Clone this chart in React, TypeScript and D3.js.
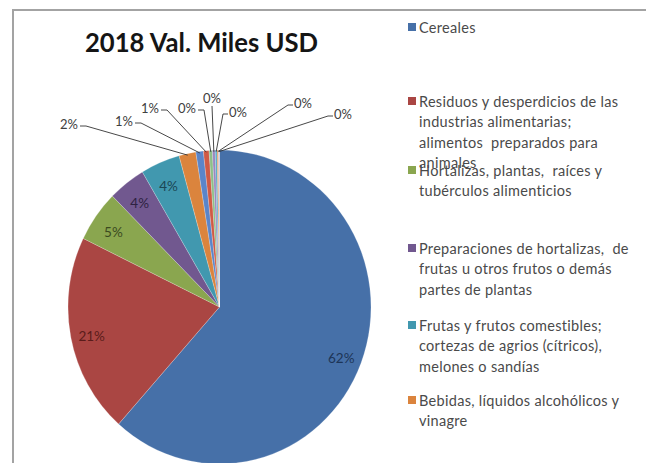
import * as d3 from "d3";

// chart data
const categories = [
  "Cereales",
  "Residuos y desperdicios de las industrias alimentarias; alimentos preparados para animales",
  "Hortalizas, plantas, raíces y tubérculos alimenticios",
  "Preparaciones de hortalizas, de frutas u otros frutos o demás partes de plantas",
  "Frutas y frutos comestibles; cortezas de agrios (cítricos), melones o sandías",
  "Bebidas, líquidos alcohólicos y vinagre",
  "Café, té, yerba mate y especias",
  "Productos de la molinería",
  "Azúcares y artículos de confitería",
  "Grasas y aceites animales o vegetales",
  "Cacao y sus preparaciones",
  "Semillas y frutos oleaginosos",
  "Leche y productos lácteos",
];
const values = [61.6, 20.6, 5.3, 4.0, 4.2, 1.8, 0.8, 0.6, 0.35, 0.3, 0.2, 0.15, 0.1];
const colors = [
  "#4670a8", "#aa4643", "#8aa64f", "#71588f", "#4198af", "#db843d",
  "#5b85c9", "#d05a45", "#8dbf88", "#9a88c0", "#4fa8c8", "#e89048", "#c3c3e3",
];
const labelColors = ["#1d3557", "#5a1c1a", "#3b4a1f", "#2e2242", "#1b4654"];

// legend text as wrapped in the picture (only the first six fit)
const legendLines = [
  ["Cereales"],
  ["Residuos y desperdicios de las", "industrias alimentarias;", "alimentos  preparados para", "animales"],
  ["Hortalizas, plantas,  raíces y", "tubérculos alimenticios"],
  ["Preparaciones de hortalizas,  de", "frutas u otros frutos o demás", "partes de plantas"],
  ["Frutas y frutos comestibles;", "cortezas de agrios (cítricos),", "melones o sandías"],
  ["Bebidas, líquidos alcohólicos y", "vinagre"],
];
const legendTop = [27, 101, 170, 248, 325, 400];

// where the outside labels sit (leader start point + label side)
const outsideSpots = [
  { lx: 80, ly: 126, dir: "L" },
  { lx: 135, ly: 123, dir: "L" },
  { lx: 161, ly: 110, dir: "L" },
  { lx: 198, ly: 110, dir: "L" },
  { lx: 212, ly: 106, dir: "U" },
  { lx: 228, ly: 114, dir: "R" },
  { lx: 293, ly: 105, dir: "R" },
  { lx: 333, ly: 116, dir: "R" },
];

const W = 646;
const H = 463;
const cx = 219.5;
const cy = 307;
const R = 151.5;
const sy = 1.036; // picture is slightly stretched vertically
const FONT = "Lato, 'Open Sans', sans-serif";

const App = () => {
  const total = d3.sum(values);
  const pie = d3.pie<number>().sort(null).value((d) => d);
  const arcs = pie(values);
  const arcGen = d3.arc<d3.PieArcDatum<number>>().innerRadius(0).outerRadius(R);
  const at = (a: d3.PieArcDatum<number>, r: number) => {
    const [x, y] = d3.arc<d3.PieArcDatum<number>>().innerRadius(r).outerRadius(r).centroid(a);
    return [cx + x, cy + y * sy];
  };
  const pct = (v: number) => `${Math.round((v / total) * 100)}%`;
  const insideCount = 5;

  return (
    <svg
      width={W}
      height={H}
      style={{ position: "absolute", left: 0, top: 0, background: "#fff" }}
      fontFamily={FONT}
    >
      <rect x={0} y={0} width={W} height={H} fill="#fff" />
      <path d={`M13,${H} V10 H${W}`} fill="none" stroke="#a3a3a3" strokeWidth={2} />

      <text x={201.5} y={42} textAnchor="middle" dominantBaseline="central" fontSize={26} fontWeight={700} fill="#151515" textLength={233} lengthAdjust="spacingAndGlyphs">
        2018 Val. Miles USD
      </text>

      <g transform={`translate(${cx},${cy}) scale(1,${sy})`}>
        {arcs.map((a, i) => (
          <path key={categories[i]} d={arcGen(a) || ""} fill={colors[i]} stroke="#ffffff" strokeOpacity={0.35} strokeWidth={0.6} />
        ))}
      </g>

      {arcs.slice(0, insideCount).map((a, i) => {
        const [x, y] = at(a, R * 0.86);
        return (
          <text key={`in${i}`} x={x} y={y + 3} textAnchor="middle" dominantBaseline="central" fontSize={13.5} fill={labelColors[i]}>
            {pct(values[i])}
          </text>
        );
      })}

      {arcs.slice(insideCount).map((a, k) => {
        const i = k + insideCount;
        const s = outsideSpots[k];
        const [ex, ey] = at(a, R * 0.99);
        let d = "";
        let tx = s.lx;
        let ty = s.ly;
        let anchor = "middle";
        if (s.dir === "L") {
          d = `M${s.lx},${s.ly} h6 L${ex},${ey}`;
          tx = s.lx - 2;
          ty = s.ly - 2;
          anchor = "end";
        } else if (s.dir === "R") {
          d = `M${s.lx},${s.ly} h-5 L${ex},${ey}`;
          tx = s.lx + 1;
          ty = s.ly - 2;
          anchor = "start";
        } else {
          d = `M${s.lx},${s.ly} L${ex},${ey}`;
          ty = s.ly - 8;
        }
        return (
          <g key={`out${i}`}>
            <path d={d} fill="none" stroke="#333" strokeWidth={0.9} />
            <text x={tx} y={ty} textAnchor={anchor} dominantBaseline="central" fontSize={13} fill="#404040">
              {pct(values[i])}
            </text>
          </g>
        );
      })}

      {legendLines.map((lines, i) => (
        <g key={`lg${i}`}>
          <rect x={408} y={legendTop[i] - 4} width={8} height={8} fill={colors[i]} />
          {lines.map((ln, j) => (
            <text key={j} x={419} y={legendTop[i] + j * 20.5} dominantBaseline="central" fontSize={14.5} letterSpacing={0.3} fill="#4a4a4a" style={{ whiteSpace: "pre" }}>
              {ln}
            </text>
          ))}
        </g>
      ))}
    </svg>
  );
};

export default App;
